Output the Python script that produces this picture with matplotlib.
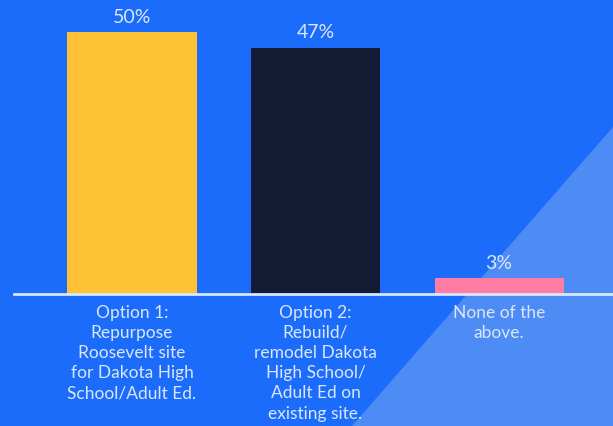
import numpy as np
import matplotlib
matplotlib.use("Agg")
import matplotlib.pyplot as plt
from matplotlib.patches import Polygon

# data
categories = [
    "Option 1:\nRepurpose\nRoosevelt site\nfor Dakota High\nSchool/Adult Ed.",
    "Option 2:\nRebuild/\nremodel Dakota\nHigh School/\nAdult Ed on\nexisting site.",
    "None of the\nabove.",
]
values = [50, 47, 3]
bar_colors = ["#FFC236", "#141B35", "#FF7CA3"]

BG = "#1B6CFB"
TRI = "#4D8BF5"
TXT = "#DCE6FA"

plt.rcParams["font.family"] = ["Lato", "DejaVu Sans"]

fig = plt.figure(figsize=(6.13, 4.27), dpi=100, facecolor=BG)

# lighter triangle in the lower right corner (behind the chart)
W, H = 613, 427
tri = Polygon([(613 / W, 1 - 128 / H), (1, 0), (352 / W, 0)],
              closed=True, transform=fig.transFigure, facecolor=TRI,
              edgecolor="none", zorder=-5)
fig.patches.append(tri)

ax = fig.add_axes([14 / W, (H - 295) / H, (W - 14) / W, 295 / H])
ax.set_facecolor("none")
ax.set_zorder(1)

x = np.arange(len(values))
bars = ax.bar(x, values, width=0.703, color=bar_colors, zorder=2)

for xi, v in zip(x, values):
    ax.text(xi, v + 1.4, f"{v}%", ha="center", va="bottom",
            color=TXT, fontsize=14)

ax.set_xlim(-0.643, 2.621)
ax.set_ylim(0, 56.3)
ax.set_xticks(x)
ax.set_xticklabels(categories, color=TXT, fontsize=12.5, linespacing=1.32)
ax.tick_params(axis="x", length=0, pad=7)
ax.set_yticks([])

for s in ["top", "right", "left"]:
    ax.spines[s].set_visible(False)
ax.spines["bottom"].set_color("#D8E6FF")
ax.spines["bottom"].set_linewidth(2)
ax.spines["bottom"].set_zorder(3)

fig.savefig("out.png", dpi=100, facecolor=BG)
